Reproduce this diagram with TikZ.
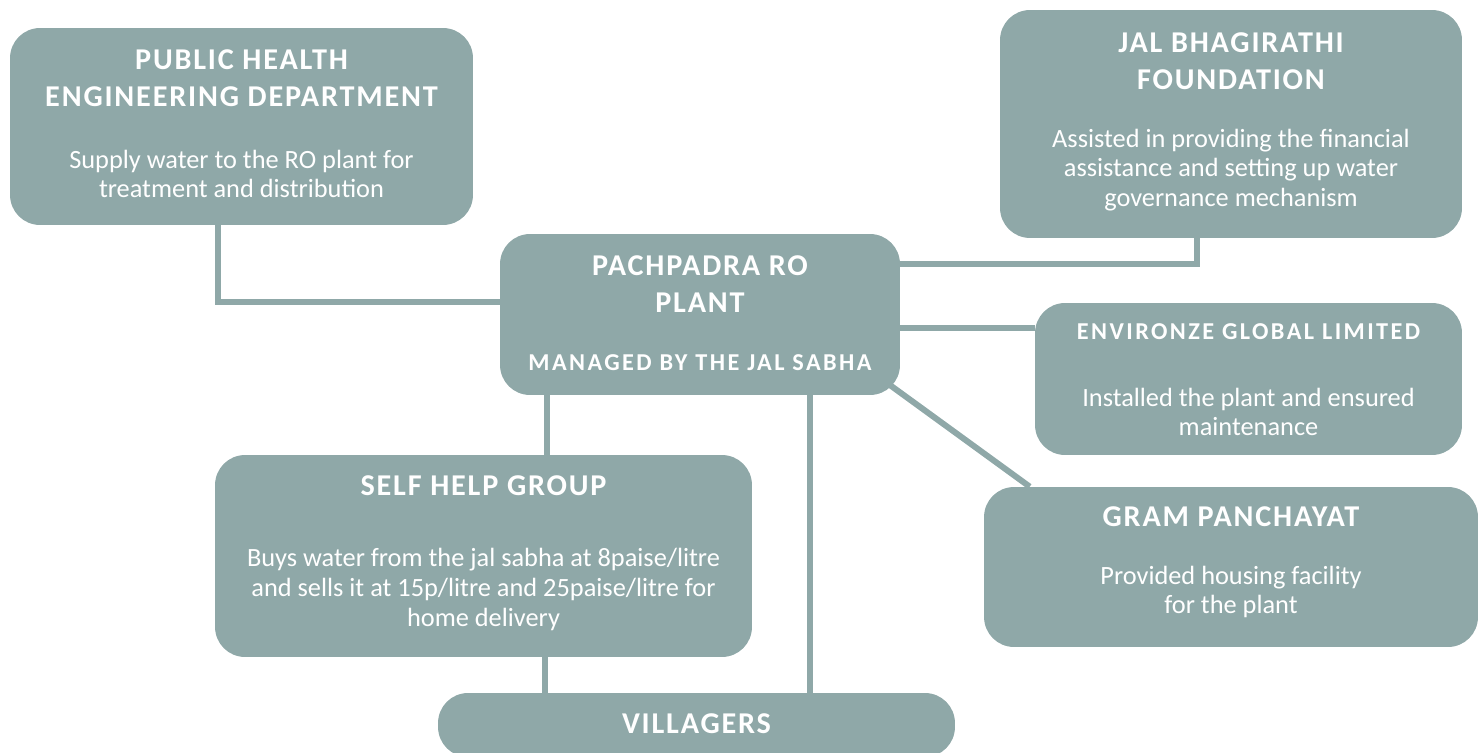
\documentclass[tikz,border=0pt]{standalone}
\usepackage{fontspec}
\setmainfont{Carlito}
\newfontfamily\headfont[LetterSpace=6]{Carlito}
\newfontfamily\subheadfont[LetterSpace=10]{Carlito}
\usetikzlibrary{positioning,calc}
\definecolor{boxgray}{HTML}{8FA8A8}

\tikzset{
  box/.style={fill=boxgray, rounded corners=0.6cm, inner sep=0pt},
  head/.style={text=white, align=center, inner sep=0pt, font=\headfont\bfseries\fontsize{17.2}{21}\selectfont},
  subhead/.style={text=white, align=center, inner sep=0pt, font=\subheadfont\bfseries\fontsize{13.8}{16}\selectfont},
  body/.style={text=white, align=center, inner sep=0pt, font=\fontsize{15}{17}\selectfont},
  link/.style={draw=boxgray, line width=0.12cm},
}

\begin{document}
\begin{tikzpicture}[x=0.02cm, y=-0.02cm]
\useasboundingbox (0,0) rectangle (1479,753);

% boxes
\node[box, minimum width=9.26cm, minimum height=3.94cm] (phed) at (241.5,126.5) {};
\node[box, minimum width=9.24cm, minimum height=4.56cm] (jbf) at (1231,124) {};
\node[box, minimum width=8cm, minimum height=3.22cm] (plant) at (700,314.5) {};
\node[box, minimum width=8.54cm, minimum height=3.04cm] (env) at (1248.5,379) {};
\node[box, minimum width=9.88cm, minimum height=3.2cm] (gram) at (1231,567) {};
\node[box, minimum width=10.74cm, minimum height=4.04cm] (shg) at (483.5,556) {};
\node[box, minimum width=10.34cm, minimum height=1.28cm] (vill) at (696.5,725) {};

% texts
\node[head] (phed-head) at (241.5,78.5) {PUBLIC HEALTH\\ENGINEERING DEPARTMENT};
\node[body] (phed-text) at (241.5,174) {Supply water to the RO plant for\\treatment and distribution};
\node[head] (jbf-head) at (1231,61.5) {JAL BHAGIRATHI\\FOUNDATION};
\node[body] (jbf-text) at (1231,170) {Assisted in providing the financial\\assistance and setting up water\\governance mechanism};
\node[head] (plant-head) at (700,284.5) {PACHPADRA RO\\PLANT};
\node[subhead] (plant-sub) at (700,363) {MANAGED BY THE JAL SABHA};
\node[subhead] (env-head) at (1248.5,332) {ENVIRONZE GLOBAL LIMITED};
\node[body] (env-text) at (1248.5,412) {Installed the plant and ensured\\maintenance};
\node[head] (gram-head) at (1231,517) {GRAM PANCHAYAT};
\node[body] (gram-text) at (1231,592) {Provided housing facility\\for the plant};
\node[head] (shg-head) at (483.5,486) {SELF HELP GROUP};
\node[body] (shg-text) at (483.5,589.5) {Buys water from the jal sabha at 8paise/litre\\and sells it at 15p/litre and 25paise/litre for\\home delivery};
\node[head] (vill-head) at (696.5,724) {VILLAGERS};

% connectors
\coordinate (envjoin) at ([yshift=-0.27cm]plant.east);
\coordinate (shgjoin) at ([xshift=-3.06cm]plant.south);
\coordinate (villjoin) at ([xshift=2.2cm]plant.south);
\coordinate (shgdown) at ([xshift=1.23cm]shg.south);
\draw[link] ([xshift=-0.47cm]phed.south) |- ([yshift=0.25cm]plant.west);
\draw[link] ([yshift=1.01cm]plant.east) -| ([xshift=-0.68cm]jbf.south);
\draw[link] (envjoin) -- (envjoin -| env.west);
\draw[link] ([xshift=-0.2cm,yshift=0.2cm]plant.south east) -- ([xshift=0.92cm]gram.north west);
\draw[link] (shgjoin) -- (shgjoin |- shg.north);
\draw[link] (villjoin) -- (villjoin |- vill.north);
\draw[link] (shgdown) -- (shgdown |- vill.north);
\end{tikzpicture}
\end{document}
